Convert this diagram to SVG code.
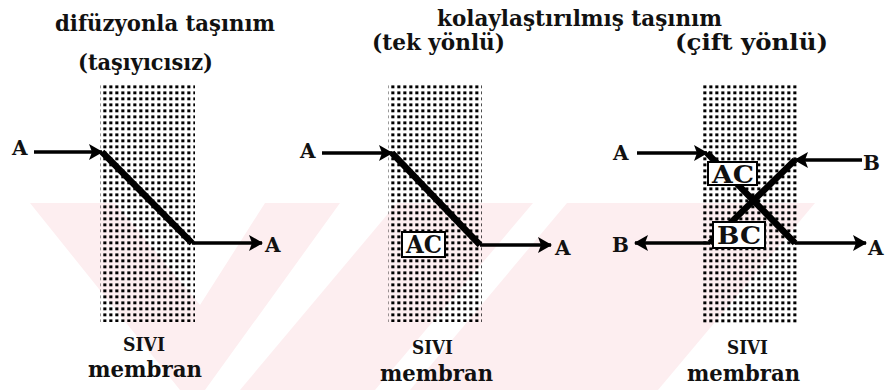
<svg xmlns="http://www.w3.org/2000/svg" width="890" height="390" viewBox="0 0 890 390">
  <defs>
    <pattern id="dots" x="0" y="0" width="6" height="6" patternUnits="userSpaceOnUse">
      <rect x="1.3" y="1.4" width="3.1" height="2.9" fill="#000"/>
    </pattern>
    <marker id="ah" viewBox="0 0 14 16" refX="13" refY="8" markerWidth="14" markerHeight="16" markerUnits="userSpaceOnUse" orient="auto">
      <path d="M0,0 L14,8 L0,16 L3,8 z" fill="#000"/>
    </marker>
    <style>
      .t { font-family: "DejaVu Serif", "Liberation Serif", serif; fill: #111; font-weight: bold; }
      .ttl { font-size: 23px; }
      .sub { font-size: 22px; }
      .lbl { font-size: 20px; }
      .bot { font-size: 23px; }
      .sv { font-size: 26px; font-variant: small-caps; }
      .box { fill: #fff; stroke: #000; stroke-width: 2; }
      .boxt { font-size: 24px; }
      .mem { fill: url(#dots); }
      .arr { stroke: #000; stroke-width: 3.5; fill: none; marker-end: url(#ah); }
      .diag { stroke: #000; stroke-width: 6.5; fill: none; }
      .wm { fill: #fdeef0; }
    </style>
  </defs>

  <rect x="0" y="0" width="890" height="390" fill="#fff"/>

  <g id="watermark">
    <polygon class="wm" points="30,203 115,203 200,305 265,203 340,203 205,390 180,390"/>
    <polygon class="wm" points="397,203 533,203 375,390 240,390"/>
    <polygon class="wm" points="567,203 815,203 658,390 410,390"/>
  </g>

  <g id="titles">
    <text class="t ttl" x="55" y="31" textLength="220" lengthAdjust="spacingAndGlyphs">difüzyonla taşınım</text>
    <text class="t sub" x="78" y="70" textLength="135" lengthAdjust="spacingAndGlyphs">(taşıyıcısız)</text>
    <text class="t ttl" x="437" y="26" textLength="285" lengthAdjust="spacingAndGlyphs">kolaylaştırılmış taşınım</text>
    <text class="t sub" x="372" y="50" textLength="133" lengthAdjust="spacingAndGlyphs">(tek yönlü)</text>
    <text class="t sub" x="675" y="50" textLength="153" lengthAdjust="spacingAndGlyphs">(çift yönlü)</text>
  </g>

  <g id="membrane1">
    <rect class="mem" x="100" y="83" width="95" height="239"/>
    <text class="t sv" x="123" y="351" textLength="42" lengthAdjust="spacingAndGlyphs">sıvı</text>
    <text class="t bot" x="88" y="377" textLength="114" lengthAdjust="spacingAndGlyphs">membran</text>
  </g>
  <g id="membrane2">
    <rect class="mem" x="388" y="83" width="94" height="239"/>
    <text class="t sv" x="412" y="354" textLength="41" lengthAdjust="spacingAndGlyphs">sıvı</text>
    <text class="t bot" x="380" y="381" textLength="113" lengthAdjust="spacingAndGlyphs">membran</text>
  </g>
  <g id="membrane3">
    <rect class="mem" x="702" y="85" width="96" height="238"/>
    <text class="t sv" x="727" y="354" textLength="41" lengthAdjust="spacingAndGlyphs">sıvı</text>
    <text class="t bot" x="687" y="381" textLength="113" lengthAdjust="spacingAndGlyphs">membran</text>
  </g>

  <g id="connectors">
    <line class="arr" x1="34" y1="152" x2="102" y2="152"/>
    <line class="diag" x1="102" y1="152" x2="192" y2="243"/>
    <line class="arr" x1="192" y1="243" x2="262" y2="243"/>

    <line class="arr" x1="322" y1="153" x2="392" y2="153"/>
    <line class="diag" x1="392" y1="153" x2="480" y2="245"/>
    <line class="arr" x1="480" y1="245" x2="551" y2="245"/>

    <line class="arr" x1="637" y1="153" x2="707" y2="153"/>
    <line class="diag" x1="707" y1="153" x2="795" y2="243"/>
    <line class="arr" x1="795" y1="243" x2="866" y2="243"/>
    <line class="arr" x1="862" y1="160" x2="795" y2="160"/>
    <line class="diag" x1="795" y1="160" x2="710" y2="243"/>
    <line class="arr" x1="710" y1="243" x2="635" y2="243"/>
  </g>

  <g id="labels1">
    <text class="t lbl" x="12" y="155">A</text>
    <text class="t lbl" x="265" y="252">A</text>
  </g>
  <g id="labels2">
    <text class="t lbl" x="300" y="158">A</text>
    <text class="t lbl" x="555" y="255">A</text>
  </g>
  <g id="labels3">
    <text class="t lbl" x="613" y="160">A</text>
    <text class="t lbl" x="863" y="170">B</text>
    <text class="t lbl" x="612" y="252">B</text>
    <text class="t lbl" x="868" y="255">A</text>
  </g>

  <g id="carrier-AC-1">
    <rect class="box" x="402" y="232" width="43" height="25"/>
    <text class="t boxt" x="406" y="253" textLength="36" lengthAdjust="spacingAndGlyphs">AC</text>
  </g>
  <g id="carrier-AC-2">
    <rect class="box" x="708" y="162" width="49" height="23"/>
    <text class="t boxt" x="712" y="183" textLength="42" lengthAdjust="spacingAndGlyphs">AC</text>
  </g>
  <g id="carrier-BC">
    <rect class="box" x="713" y="222" width="52" height="26"/>
    <text class="t boxt" x="717" y="244" textLength="44" lengthAdjust="spacingAndGlyphs">BC</text>
  </g>
</svg>
